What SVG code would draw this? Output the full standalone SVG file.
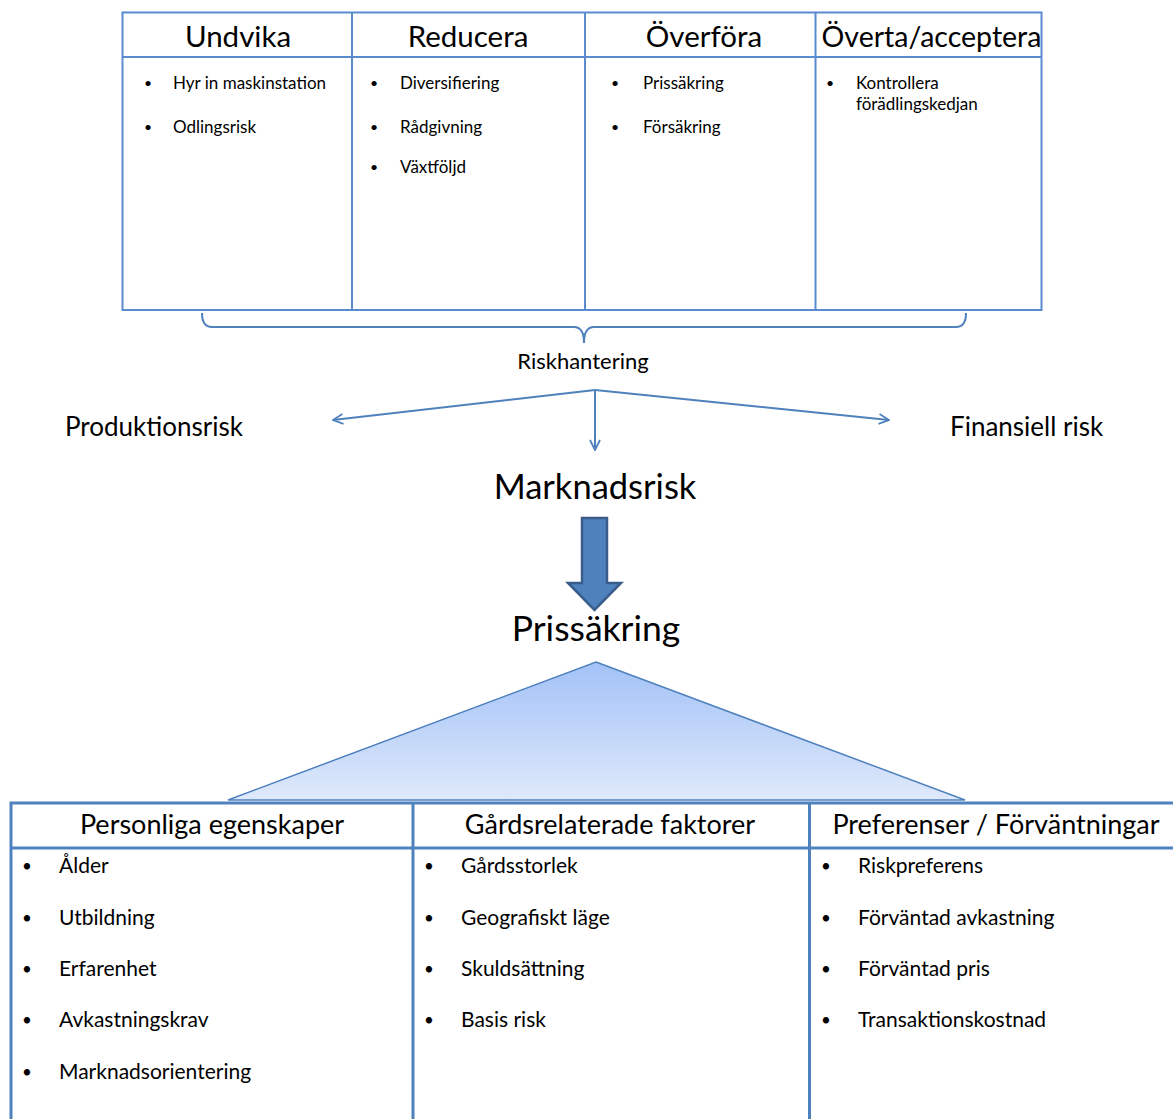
<svg xmlns="http://www.w3.org/2000/svg" width="1173" height="1119" viewBox="0 0 1173 1119">
<style>
text{font-family:Lato,"Open Sans","Noto Sans",sans-serif;fill:#000}
.h1{font-size:29.5px;text-anchor:middle}
.b1{font-size:17px}
.d1{font-size:14px}
.h2{font-size:27px;text-anchor:middle}
.b2{font-size:21px}
.d2{font-size:17px}
.tbl{fill:none;stroke:#5a8ad0;stroke-width:2}
.tbl2{fill:none;stroke:#4f81bd;stroke-width:3}
.con{fill:none;stroke:#4f81bd;stroke-width:2}
</style>
<defs>
<marker id="ah" viewBox="0 0 12 12" refX="11" refY="6" markerWidth="12" markerHeight="12" markerUnits="userSpaceOnUse" orient="auto">
<path d="M1,1 L11,6 L1,11" fill="none" stroke="#4f81bd" stroke-width="1.8"/>
</marker>
<linearGradient id="tg" x1="0" y1="0" x2="0" y2="1">
<stop offset="0" stop-color="#a3c2f7"/>
<stop offset="1" stop-color="#dfe9fb"/>
</linearGradient>
</defs>
<rect width="1173" height="1119" fill="#fff"/>

<g id="top-table">
<rect class="tbl" x="122.5" y="12.5" width="919" height="297.5"/>
<line class="tbl" x1="122" y1="57" x2="1042" y2="57"/>
<line class="tbl" x1="352" y1="12" x2="352" y2="310"/>
<line class="tbl" x1="585" y1="12" x2="585" y2="310"/>
<line class="tbl" x1="815.5" y1="12" x2="815.5" y2="310"/>
</g>
<g id="undvika">
<text class="h1" x="238" y="47">Undvika</text>
<text class="d1" x="144" y="88">•</text><text class="b1" x="173" y="89">Hyr in maskinstation</text>
<text class="d1" x="144" y="132">•</text><text class="b1" x="173" y="133">Odlingsrisk</text>
</g>
<g id="reducera">
<text class="h1" x="468" y="47">Reducera</text>
<text class="d1" x="370" y="88">•</text><text class="b1" x="400" y="89">Diversifiering</text>
<text class="d1" x="370" y="132">•</text><text class="b1" x="400" y="133">Rådgivning</text>
<text class="d1" x="370" y="172">•</text><text class="b1" x="400" y="173">Växtföljd</text>
</g>
<g id="overfora">
<text class="h1" x="704" y="47">Överföra</text>
<text class="d1" x="611" y="88">•</text><text class="b1" x="643" y="89">Prissäkring</text>
<text class="d1" x="611" y="132">•</text><text class="b1" x="643" y="133">Försäkring</text>
</g>
<g id="overta">
<text x="931.5" y="47" font-size="28.5" text-anchor="middle">Överta/acceptera</text>
<text class="d1" x="826" y="88">•</text><text class="b1" x="856" y="89">Kontrollera</text>
<text class="b1" x="856" y="110">förädlingskedjan</text>
</g>

<g id="connectors">
<path class="con" d="M202,313 Q202,327 212,327 L574,327 Q584,327 584,343 Q584,327 594,327 L956,327 Q966,327 966,313"/>
<line class="con" x1="595" y1="390" x2="333" y2="420" marker-end="url(#ah)"/>
<line class="con" x1="595" y1="390" x2="889" y2="420" marker-end="url(#ah)"/>
<line class="con" x1="595" y1="390" x2="595" y2="450" marker-end="url(#ah)"/>
<path d="M582,518 L607,518 L607,583 L621,583 L594.5,610 L568,583 L582,583 Z" fill="#4f81bd" stroke="#385d8a" stroke-width="2.5"/>
</g>

<g id="riskhantering"><text x="583" y="369" font-size="22" text-anchor="middle">Riskhantering</text></g>
<g id="produktionsrisk"><text x="65" y="436" font-size="26">Produktionsrisk</text></g>
<g id="finansiell"><text x="950" y="436" font-size="26">Finansiell risk</text></g>
<g id="marknadsrisk"><text x="595" y="499" font-size="34.5" text-anchor="middle">Marknadsrisk</text></g>
<g id="prissakring"><text x="596" y="641" font-size="35.5" text-anchor="middle">Prissäkring</text></g>

<g id="triangle">
<path d="M596,662 L965,800 L228,800 Z" fill="url(#tg)" stroke="#4f81bd" stroke-width="1.5"/>
</g>

<g id="bottom-table">
<path class="tbl2" d="M11,1119 L11,803 L1175,803"/>
<line class="tbl2" x1="11" y1="848" x2="1175" y2="848"/>
<line class="tbl2" x1="413" y1="803" x2="413" y2="1119"/>
<line class="tbl2" x1="809.5" y1="803" x2="809.5" y2="1119"/>
</g>
<g id="personliga">
<text class="h2" x="212" y="834">Personliga egenskaper</text>
<text class="d2" x="22" y="872">•</text><text class="b2" x="59" y="873">Ålder</text>
<text class="d2" x="22" y="924">•</text><text class="b2" x="59" y="925">Utbildning</text>
<text class="d2" x="22" y="975">•</text><text class="b2" x="59" y="976">Erfarenhet</text>
<text class="d2" x="22" y="1026">•</text><text class="b2" x="59" y="1027">Avkastningskrav</text>
<text class="d2" x="22" y="1078">•</text><text class="b2" x="59" y="1079">Marknadsorientering</text>
</g>
<g id="gardsrelaterade">
<text class="h2" x="610" y="834">Gårdsrelaterade faktorer</text>
<text class="d2" x="424" y="872">•</text><text class="b2" x="461" y="873">Gårdsstorlek</text>
<text class="d2" x="424" y="924">•</text><text class="b2" x="461" y="925">Geografiskt läge</text>
<text class="d2" x="424" y="975">•</text><text class="b2" x="461" y="976">Skuldsättning</text>
<text class="d2" x="424" y="1026">•</text><text class="b2" x="461" y="1027">Basis risk</text>
</g>
<g id="preferenser">
<text class="h2" x="996" y="834">Preferenser / Förväntningar</text>
<text class="d2" x="821" y="872">•</text><text class="b2" x="858" y="873">Riskpreferens</text>
<text class="d2" x="821" y="924">•</text><text class="b2" x="858" y="925">Förväntad avkastning</text>
<text class="d2" x="821" y="975">•</text><text class="b2" x="858" y="976">Förväntad pris</text>
<text class="d2" x="821" y="1026">•</text><text class="b2" x="858" y="1027">Transaktionskostnad</text>
</g>
</svg>
